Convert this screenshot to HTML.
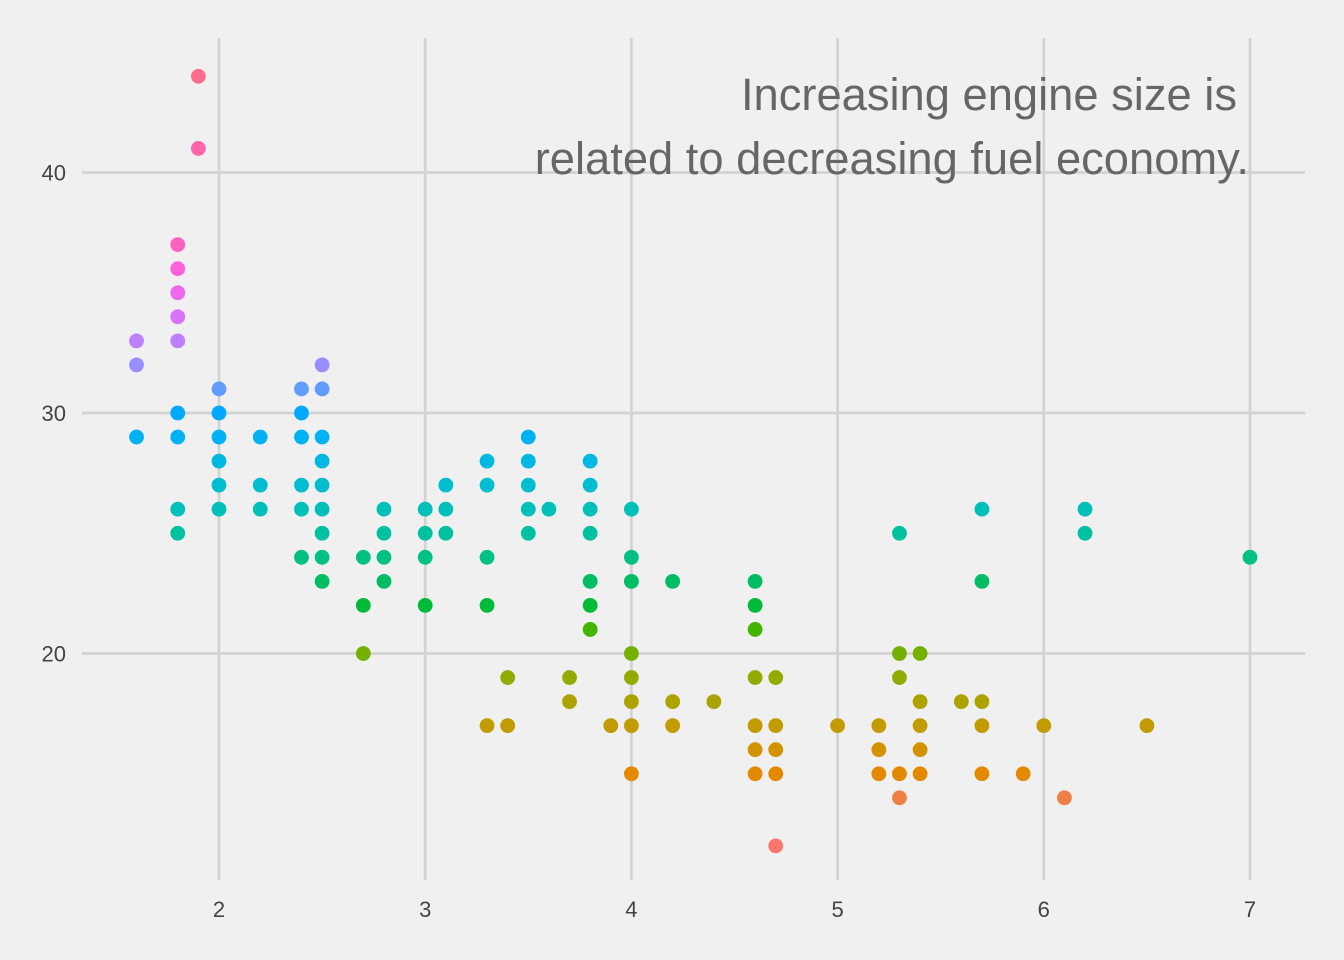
<!DOCTYPE html>
<html><head><meta charset="utf-8">
<style>
html,body{margin:0;padding:0;background:#f0f0f0;}
svg{display:block;font-family:"Liberation Sans",sans-serif;}
</style></head>
<body>
<svg id="chart" width="1344" height="960" viewBox="0 0 1344 960">
<rect width="1344" height="960" fill="#f0f0f0"/>
<g id="grid"></g>
<g id="ticks"></g>
<g id="points"></g>
<text x="1237" y="110" text-anchor="end" font-size="45.3" fill="#666666">Increasing engine size is</text>
<text x="1249" y="174" text-anchor="end" font-size="45.3" fill="#666666">related to decreasing fuel economy.</text>
</svg>
<script>
const xTicks = [2,3,4,5,6,7];
const yTicks = [20,30,40];
const displ = [
1.6,1.6,1.6,
1.8,1.8,1.8,1.8,1.8,1.8,1.8,1.8,1.8,
1.9,1.9,
2.0,2.0,2.0,2.0,2.0,2.0,
2.2,2.2,2.2,
2.4,2.4,2.4,2.4,2.4,2.4,
2.5,2.5,2.5,2.5,2.5,2.5,2.5,2.5,2.5,
2.7,2.7,2.7,
2.8,2.8,2.8,2.8,
3.0,3.0,3.0,3.0,
3.1,3.1,3.1,
3.3,3.3,3.3,3.3,3.3,
3.4,3.4,
3.5,3.5,3.5,3.5,3.5,
3.6,
3.7,3.7,
3.8,3.8,3.8,3.8,3.8,3.8,3.8,
3.9,
4.0,4.0,4.0,4.0,4.0,4.0,4.0,4.0,
4.2,4.2,4.2,
4.4,
4.6,4.6,4.6,4.6,4.6,4.6,4.6,
4.7,4.7,4.7,4.7,4.7,
5.0,
5.2,5.2,5.2,
5.3,5.3,5.3,5.3,5.3,
5.4,5.4,5.4,5.4,5.4,
5.6,
5.7,5.7,5.7,5.7,5.7,
5.9,6.0,6.1,
6.2,6.2,
6.5,7.0];
const hwy = [
33,32,29,
37,36,35,34,33,30,29,26,25,
44,41,
31,30,29,28,27,26,
29,27,26,
31,30,29,27,26,24,
32,31,29,28,27,26,25,24,23,
24,22,20,
26,25,24,23,
26,25,24,22,
27,26,25,
28,27,24,22,17,
19,17,
29,28,27,26,25,
26,
19,18,
28,27,26,25,23,22,21,
17,
26,24,23,20,19,18,17,15,
23,18,17,
18,
23,22,21,19,17,16,15,
19,17,16,15,12,
17,
17,16,15,
25,20,19,15,14,
20,18,17,16,15,
18,
26,23,18,17,15,
15,17,14,
26,25,
17,24];

const NS='http://www.w3.org/2000/svg';
const X0=82,X1=1305,YT=38,YB=880;
function xs(v){return 219+(v-2)*206.2;}
function ys(v){return 413-(v-30)*24.05;}

function hcl2hex(h,c,l){
  const hr=h*Math.PI/180;
  const u=c*Math.cos(hr), v=c*Math.sin(hr);
  const Y=Math.pow((l+16)/116,3);
  const un=0.19784,vn=0.46832;
  const up=u/(13*l)+un, vp=v/(13*l)+vn;
  const X=Y*9*up/(4*vp), Z=Y*(12-3*up-20*vp)/(4*vp);
  let r=3.2406*X-1.5372*Y-0.4986*Z, g=-0.9689*X+1.8758*Y+0.0415*Z, b=0.0557*X-0.2040*Y+1.0570*Z;
  const gm=t=>{t=t<=0.0031308?12.92*t:1.055*Math.pow(t,1/2.4)-0.055;t=Math.max(0,Math.min(1,t));return Math.round(t*255).toString(16).padStart(2,'0');};
  return '#'+gm(r)+gm(g)+gm(b);
}
const levels=[12,14,15,16,17,18,19,20,21,22,23,24,25,26,27,28,29,30,31,32,33,34,35,36,37,41,44];
function colorOf(v){
  const n=levels.length;const i=levels.indexOf(v);
  const h=15+360*i/n;
  return hcl2hex(h%360,100,65);
}

const grid=document.getElementById('grid');
xTicks.forEach(t=>{
  const l=document.createElementNS(NS,'line');
  l.setAttribute('x1',xs(t));l.setAttribute('x2',xs(t));l.setAttribute('y1',YT);l.setAttribute('y2',YB);
  l.setAttribute('stroke','#d2d2d2');l.setAttribute('stroke-width','2.7');
  
  
  grid.appendChild(l);
});
yTicks.forEach(t=>{
  const l=document.createElementNS(NS,'line');
  l.setAttribute('x1',X0);l.setAttribute('x2',X1);l.setAttribute('y1',ys(t));l.setAttribute('y2',ys(t));
  l.setAttribute('stroke','#d2d2d2');l.setAttribute('stroke-width','2.7');
  
  
  grid.appendChild(l);
});
const tk=document.getElementById('ticks');
xTicks.forEach(t=>{
  const e=document.createElementNS(NS,'text');
  e.setAttribute('x',xs(t));e.setAttribute('y',917);e.setAttribute('text-anchor','middle');
  e.setAttribute('font-size','22');e.setAttribute('fill','#444');
  e.textContent=t;
  
  
  tk.appendChild(e);
});
yTicks.forEach(t=>{
  const e=document.createElementNS(NS,'text');
  e.setAttribute('x',66);e.setAttribute('y',ys(t)+8);e.setAttribute('text-anchor','end');
  e.setAttribute('font-size','22');e.setAttribute('fill','#444');
  e.textContent=t;
  
  
  tk.appendChild(e);
});
const pts=document.getElementById('points');
displ.forEach((d,i)=>{
  const c=document.createElementNS(NS,'circle');
  c.setAttribute('cx',xs(d));c.setAttribute('cy',ys(hwy[i]));c.setAttribute('r',7.4);
  c.setAttribute('fill',colorOf(hwy[i]));
  
  
  pts.appendChild(c);
});
</script>
</body></html>
